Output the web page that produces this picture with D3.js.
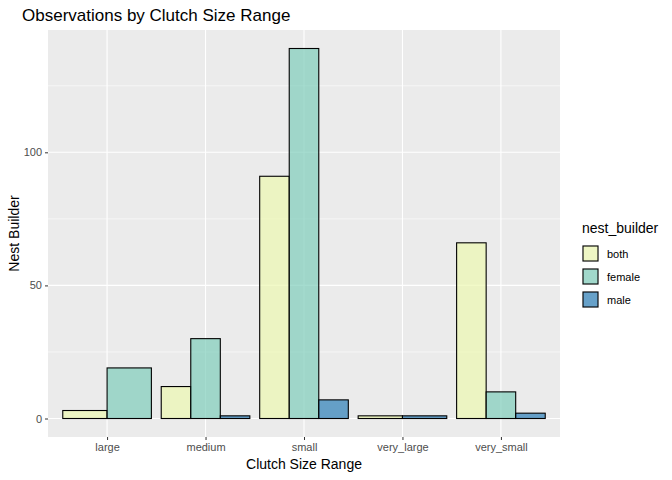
<!DOCTYPE html>
<html>
<head>
<meta charset="utf-8">
<script src="https://cdn.jsdelivr.net/npm/d3@7"></script>
<style>
  body { margin: 0; background: #fff; }
  text { font-family: "Liberation Sans", Arial, sans-serif; }
</style>
</head>
<body>
<script>
// clutch size ranges and counts per nest builder (null = no bar)
var categories = ["large", "medium", "small", "very_large", "very_small"];
var builders = ["both", "female", "male"];
var both   = [3, 12, 91, 1, 66];
var female = [19, 30, 139, null, 10];
var male   = [null, 1, 7, 1, 2];
var yTicks = [0, 50, 100];
var colors = ["#EDF8B1", "#7FCDBB", "#2C7FB8"];

var series = [both, female, male];
var W = 672, H = 480;
var panel = {left: 48, right: 560, top: 30, bottom: 437};

var svg = d3.select("body").append("svg").attr("width", W).attr("height", H);

var x = d3.scalePoint().domain(categories).range([panel.left, panel.right]).padding(0.6);
var step = x.step();
var y = d3.scaleLinear().domain([-6.95, 145.95]).range([panel.bottom, panel.top]);

svg.append("rect").attr("x", panel.left).attr("y", panel.top)
  .attr("width", panel.right - panel.left).attr("height", panel.bottom - panel.top).attr("fill", "#EBEBEB");

var g = svg.append("g");
[25, 75, 125].forEach(function(v) {
  g.append("line").attr("x1", panel.left).attr("x2", panel.right).attr("y1", y(v)).attr("y2", y(v))
    .attr("stroke", "#fff").attr("stroke-width", 0.55);
});
yTicks.forEach(function(v) {
  g.append("line").attr("x1", panel.left).attr("x2", panel.right).attr("y1", y(v)).attr("y2", y(v))
    .attr("stroke", "#fff").attr("stroke-width", 1.1);
});
categories.forEach(function(c) {
  g.append("line").attr("x1", x(c)).attr("x2", x(c)).attr("y1", panel.top).attr("y2", panel.bottom)
    .attr("stroke", "#fff").attr("stroke-width", 1.1);
});

// bars, dodged among present builders
categories.forEach(function(c, i) {
  var present = [];
  series.forEach(function(s, j) { if (s[i] !== null) present.push(j); });
  var gw = step * 0.9;
  var start = x(c) - gw / 2;
  var bw = gw / present.length;
  present.forEach(function(j, k) {
    var v = series[j][i];
    svg.append("rect")
      .attr("x", start + k * bw).attr("width", bw)
      .attr("y", y(v)).attr("height", y(0) - y(v))
      .attr("fill", colors[j]).attr("fill-opacity", 0.7)
      .attr("stroke", "#000").attr("stroke-width", 1.1);
  });
});

// axes
var xa = svg.append("g").attr("transform", "translate(0," + panel.bottom + ")")
  .call(d3.axisBottom(x).tickSize(3).tickPadding(3));
var ya = svg.append("g").attr("transform", "translate(" + panel.left + ",0)")
  .call(d3.axisLeft(y).tickValues(yTicks).tickSize(3).tickPadding(3));
[xa, ya].forEach(function(a) {
  a.select(".domain").remove();
  a.selectAll("line").attr("stroke", "#333");
  a.selectAll("text").attr("fill", "#4D4D4D").style("font-size", "11px");
});

svg.append("text").attr("x", 22).attr("y", 21).text("Observations by Clutch Size Range")
  .style("font-size", "17px").attr("fill", "#000");
svg.append("text").attr("x", (panel.left + panel.right) / 2).attr("y", 469).attr("text-anchor", "middle")
  .text("Clutch Size Range").style("font-size", "14px");
svg.append("text").attr("transform", "translate(19," + (panel.top + panel.bottom) / 2 + ") rotate(-90)")
  .attr("text-anchor", "middle").text("Nest Builder").style("font-size", "14px");

// legend
var lg = svg.append("g").attr("transform", "translate(582,0)");
lg.append("text").attr("x", 0).attr("y", 233).text("nest_builder").style("font-size", "14px");
builders.forEach(function(b, j) {
  var yy = 245 + j * 23;
  lg.append("rect").attr("x", 0).attr("y", yy).attr("width", 17).attr("height", 17).attr("fill", "#F2F2F2");
  lg.append("rect").attr("x", 1).attr("y", yy + 1).attr("width", 15).attr("height", 15)
    .attr("fill", colors[j]).attr("fill-opacity", 0.7).attr("stroke", "#000").attr("stroke-width", 1.1);
  lg.append("text").attr("x", 25).attr("y", yy + 12.5).text(b).style("font-size", "11px");
});
</script>
</body>
</html>
